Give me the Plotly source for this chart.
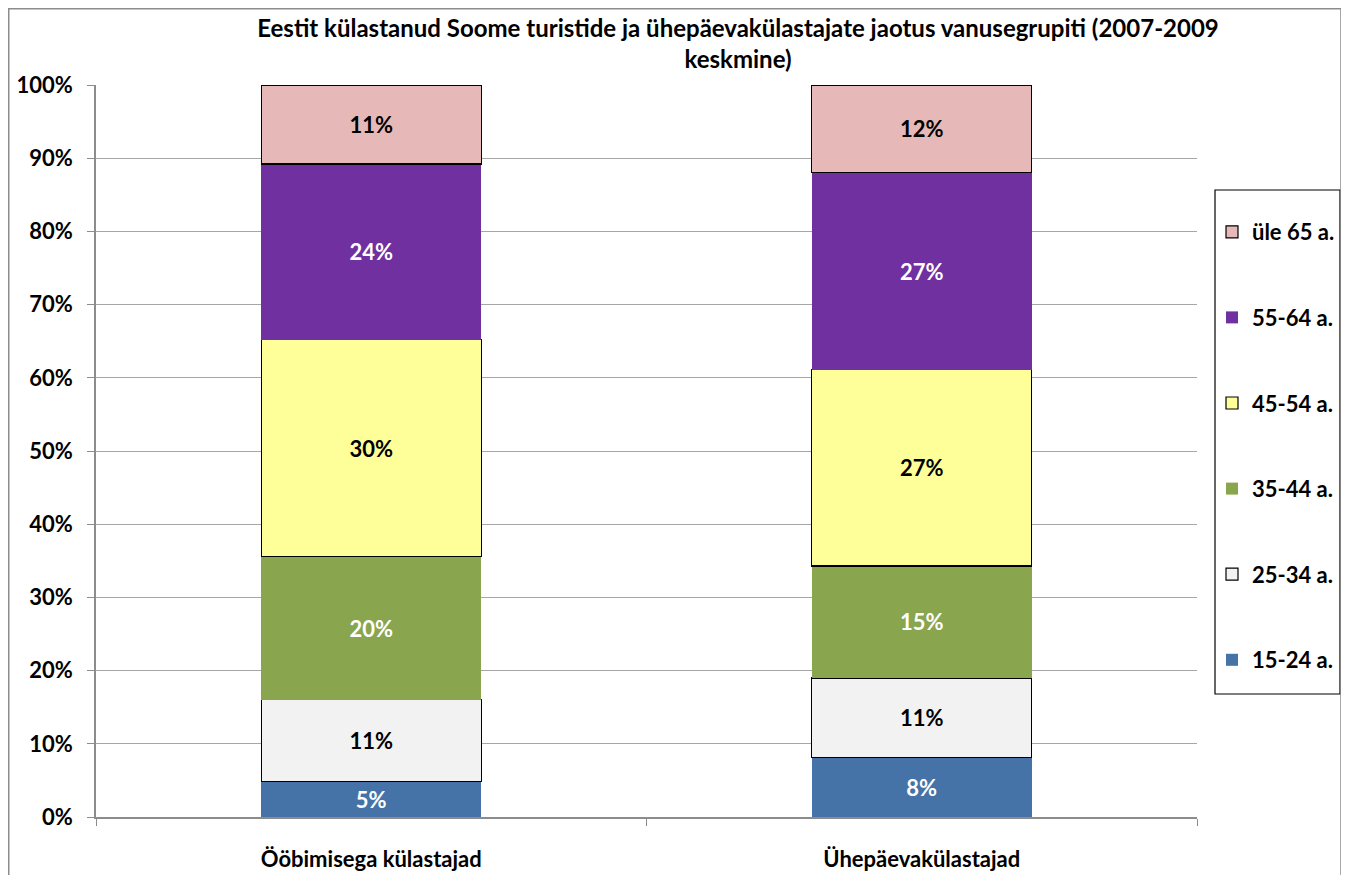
import plotly.graph_objects as go

categories = ["Ööbimisega külastajad", "Ühepäevakülastajad"]
groups = ["15-24 a.", "25-34 a.", "35-44 a.", "45-54 a.", "55-64 a.", "üle 65 a."]
values = {
    "15-24 a.": [4.9, 8.1],
    "25-34 a.": [11.1, 10.9],
    "35-44 a.": [19.6, 15.3],
    "45-54 a.": [29.6, 26.8],
    "55-64 a.": [24.0, 26.9],
    "üle 65 a.": [10.8, 12.0],
}
colors = ["#4572A7", "#F2F2F2", "#89A54E", "#FFFF99", "#7030A0", "#E6B9B8"]
text_colors = ["white", "black", "white", "black", "white", "black"]
outlined = [False, True, False, True, False, True]
title = "Eestit külastanud Soome turistide ja ühepäevakülastajate jaotus vanusegrupiti (2007-2009<br>keskmine)"

FONT = "Lato"
OFF = 8  # browser body margin
W, H = 1349 - OFF, 875 - OFF
L, R, T, B = 96 - OFF, 1197 - OFF, 85 - OFF, 817 - OFF

fig = go.Figure()
n = len(groups)
for i, (g, c, tc, ol) in enumerate(zip(groups, colors, text_colors, outlined)):
    fig.add_trace(go.Bar(
        x=categories, y=values[g], name=g, legendgroup=g, legendrank=n - i,
        marker=dict(color=c, line=dict(color="black" if ol else c, width=1.2 if ol else 0)),
        texttemplate="%{y:.0f}%", textposition="inside", insidetextanchor="middle",
        textfont=dict(family=FONT, size=22, color=tc, weight="bold"),
        hoverinfo="skip",
    ))

def px_to_paper_x(px):
    return (px - L) / (R - L)

def px_to_paper_y(py):
    return (B - py) / (B - T)

fig.update_layout(
    width=W, height=H,
    barmode="stack", bargap=0.6,
    plot_bgcolor="white", paper_bgcolor="white",
    margin=dict(l=L, r=W - R, t=T, b=H - B, autoexpand=False),
    font=dict(family=FONT, color="black"),
    title=dict(text=title, x=(738 - OFF) / W, xanchor="center", xref="container",
               y=1 - 29 / H, yanchor="top", yref="container", automargin=False,
               font=dict(family=FONT, size=24, color="black", weight="bold")),
    showlegend=True,
    legend=dict(traceorder="grouped", tracegroupgap=54, maxheight=800,
                x=(1212 - OFF) / W, xref="container", xanchor="left",
                y=1 - (211 - OFF) / H, yref="container", yanchor="top",
                bgcolor="rgba(0,0,0,0)", borderwidth=0,
                font=dict(family=FONT, size=22, color="black", weight="bold")),
    xaxis=dict(showgrid=False, showline=True, linecolor="#8C8C8C", linewidth=1.5,
               automargin=False,
               ticks="outside", tickson="boundaries", ticklen=7, tickcolor="#8C8C8C",
               ticklabelstandoff=22,
               tickfont=dict(family=FONT, size=22, color="black", weight="bold")),
    yaxis=dict(range=[0, 100], dtick=10, ticksuffix="%", showgrid=True,
               automargin=False,
               gridcolor="#A6A6A6", gridwidth=1, showline=True, linecolor="#8C8C8C",
               linewidth=1.5, zeroline=False,
               ticks="outside", ticklen=7, tickcolor="#8C8C8C", ticklabelstandoff=10,
               tickfont=dict(family=FONT, size=22, color="black", weight="bold")),
    shapes=[
        dict(type="rect", xref="paper", yref="paper",
             x0=px_to_paper_x(1215 - OFF), x1=px_to_paper_x(1340 - OFF),
             y0=px_to_paper_y(694 - OFF), y1=px_to_paper_y(190 - OFF),
             line=dict(color="black", width=1.2), fillcolor="rgba(0,0,0,0)", layer="below"),
        dict(type="rect", xref="paper", yref="paper",
             x0=px_to_paper_x(0.75), x1=px_to_paper_x(1341 - OFF),
             y0=px_to_paper_y(H + 10), y1=px_to_paper_y(0.75),
             line=dict(color="#8C8C8C", width=1.5), fillcolor="rgba(0,0,0,0)", layer="below"),
    ],
)

fig.write_html("out.html")
